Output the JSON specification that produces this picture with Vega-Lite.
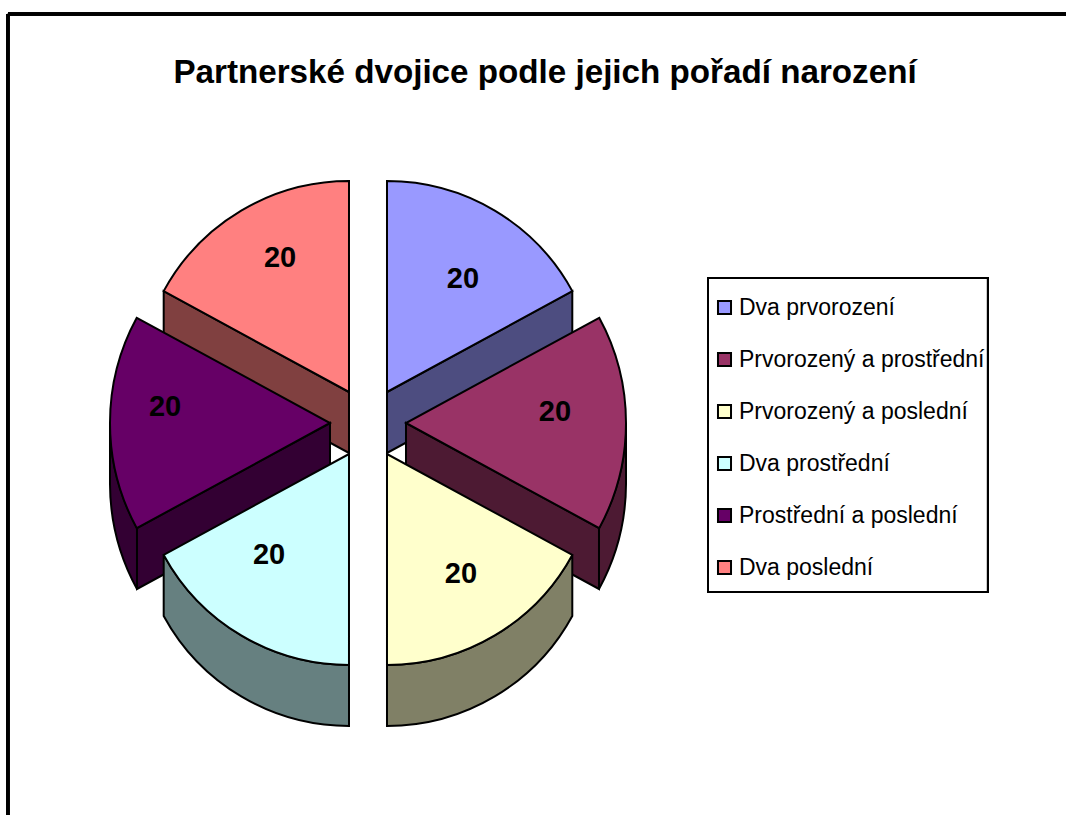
{"$schema":"https://vega.github.io/schema/vega-lite/v6.json","width":1066,"height":815,"padding":0,"autosize":{"type":"none"},"background":"white","title":{"text":"Partnerské dvojice podle jejich pořadí narození","font":"Liberation Sans","fontSize":33.2,"fontWeight":"bold","color":"black","anchor":"middle","offset":-90,"dx":12},"config":{"view":{"stroke":null},"axis":{"disable":true},"text":{"font":"Liberation Sans"}},"data":{"values":[{"dvojice":"Dva prvorození","pocet":20,"poradi":1},{"dvojice":"Prvorozený a prostřední","pocet":20,"poradi":2},{"dvojice":"Prvorozený a poslední","pocet":20,"poradi":3},{"dvojice":"Dva prostřední","pocet":20,"poradi":4},{"dvojice":"Prostřední a poslední","pocet":20,"poradi":5},{"dvojice":"Dva poslední","pocet":20,"poradi":6}]},"transform":[{"stack":"pocet","groupby":[],"sort":[{"field":"poradi"}],"as":["v0","v1"]}],"layer":[
{"mark":{"type":"rule","color":"black","strokeWidth":3},"encoding":{"x":{"datum":-18.95,"scale":{"domain":[-19.368,36.737],"nice":false,"zero":false}},"y":{"datum":13.19,"scale":{"domain":[-12.645,13.645],"nice":false,"zero":false}},"x2":{"datum":36.737}}},
{"mark":{"type":"rule","color":"black","strokeWidth":3},"encoding":{"x":{"datum":-18.95},"y":{"datum":13.19},"y2":{"datum":-12.645}}},
{"mark":{"type":"rect","fill":"white","fillOpacity":0,"stroke":"black","strokeWidth":2},"encoding":{"x":{"datum":17.895},"x2":{"datum":32.63},"y":{"datum":4.677},"y2":{"datum":-5.452}}},
{"transform":[{"filter":{"field":"dvojice","equal":"Dva poslední"}}],"mark":{"type":"point","shape":"M0 0L-185.3 -100.9L-185.3 -39.9L0 61Z","size":4,"filled":true,"fill":"#804040","stroke":"black","strokeWidth":2,"opacity":1},"encoding":{"x":{"datum":-1},"y":{"datum":1}}},
{"transform":[{"filter":{"field":"dvojice","equal":"Dva prvorození"}}],"mark":{"type":"point","shape":"M0 0L185.3 -100.9L185.3 -39.9L0 61Z","size":4,"filled":true,"fill":"#4D4D80","stroke":"black","strokeWidth":2,"opacity":1},"encoding":{"x":{"datum":1},"y":{"datum":1}}},
{"transform":[{"filter":{"field":"dvojice","equal":"Dva poslední"}}],"mark":{"type":"arc","radius":211,"stroke":"black","strokeWidth":2},"encoding":{"x":{"datum":-1},"y":{"datum":1},"theta":{"field":"v0","type":"quantitative","scale":{"domain":[0,20,40,60,80,100,120],"range":[0,1.0723,2.0693,3.1416,4.2139,5.2109,6.2832]}},"theta2":{"field":"v1"},"color":{"field":"dvojice","type":"nominal","scale":{"domain":["Dva prvorození","Prvorozený a prostřední","Prvorozený a poslední","Dva prostřední","Prostřední a poslední","Dva poslední"],"range":["#9999FF","#993366","#FFFFCC","#CCFFFF","#660066","#FF8080"]},"legend":{"title":null,"orient":"none","legendX":713,"legendY":296,"symbolType":"square","symbolSize":170,"symbolStrokeColor":"black","symbolStrokeWidth":2,"labelFont":"Liberation Sans","labelFontSize":23,"labelColor":"black","labelLimit":300,"labelOffset":3,"rowPadding":28,"padding":0}}}},
{"transform":[{"filter":{"field":"dvojice","equal":"Dva prvorození"}}],"mark":{"type":"arc","radius":211,"stroke":"black","strokeWidth":2},"encoding":{"x":{"datum":1},"y":{"datum":1},"theta":{"field":"v0","type":"quantitative"},"theta2":{"field":"v1"},"color":{"field":"dvojice","type":"nominal"}}},
{"transform":[{"filter":{"field":"dvojice","equal":"Prostřední a poslední"}}],"mark":{"type":"point","shape":"M0 0L-193 105L-193 166L0 61ZM-193 105A220 220 0 0 1 -220 0L-220 61A220 220 0 0 0 -193 166Z","size":4,"filled":true,"fill":"#330033","stroke":"black","strokeWidth":2,"opacity":1},"encoding":{"x":{"datum":-2},"y":{"datum":0}}},
{"transform":[{"filter":{"field":"dvojice","equal":"Prvorozený a prostřední"}}],"mark":{"type":"point","shape":"M0 0L193 105L193 166L0 61ZM193 105A220 220 0 0 0 220 0L220 61A220 220 0 0 1 193 166Z","size":4,"filled":true,"fill":"#4D1A33","stroke":"black","strokeWidth":2,"opacity":1},"encoding":{"x":{"datum":2},"y":{"datum":0}}},
{"transform":[{"filter":{"field":"dvojice","equal":"Prostřední a poslední"}}],"mark":{"type":"arc","radius":220,"stroke":"black","strokeWidth":2},"encoding":{"x":{"datum":-2},"y":{"datum":0},"theta":{"field":"v0","type":"quantitative"},"theta2":{"field":"v1"},"color":{"field":"dvojice","type":"nominal"}}},
{"transform":[{"filter":{"field":"dvojice","equal":"Prvorozený a prostřední"}}],"mark":{"type":"arc","radius":220,"stroke":"black","strokeWidth":2},"encoding":{"x":{"datum":2},"y":{"datum":0},"theta":{"field":"v0","type":"quantitative"},"theta2":{"field":"v1"},"color":{"field":"dvojice","type":"nominal"}}},
{"transform":[{"filter":{"field":"dvojice","equal":"Dva prostřední"}}],"mark":{"type":"point","shape":"M0 211A211 211 0 0 1 -185.3 100.9L-185.3 161.9A211 211 0 0 0 0 272Z","size":4,"filled":true,"fill":"#668080","stroke":"black","strokeWidth":2,"opacity":1},"encoding":{"x":{"datum":-1},"y":{"datum":-1}}},
{"transform":[{"filter":{"field":"dvojice","equal":"Prvorozený a poslední"}}],"mark":{"type":"point","shape":"M0 211A211 211 0 0 0 185.3 100.9L185.3 161.9A211 211 0 0 1 0 272Z","size":4,"filled":true,"fill":"#808066","stroke":"black","strokeWidth":2,"opacity":1},"encoding":{"x":{"datum":1},"y":{"datum":-1}}},
{"transform":[{"filter":{"field":"dvojice","equal":"Dva prostřední"}}],"mark":{"type":"arc","radius":211,"stroke":"black","strokeWidth":2},"encoding":{"x":{"datum":-1},"y":{"datum":-1},"theta":{"field":"v0","type":"quantitative"},"theta2":{"field":"v1"},"color":{"field":"dvojice","type":"nominal"}}},
{"transform":[{"filter":{"field":"dvojice","equal":"Prvorozený a poslední"}}],"mark":{"type":"arc","radius":211,"stroke":"black","strokeWidth":2},"encoding":{"x":{"datum":1},"y":{"datum":-1},"theta":{"field":"v0","type":"quantitative"},"theta2":{"field":"v1"},"color":{"field":"dvojice","type":"nominal"}}},
{"transform":[{"filter":{"field":"dvojice","equal":"Dva prvorození"}}],"mark":{"type":"text","fontSize":29,"fontWeight":"bold","color":"black"},"encoding":{"x":{"datum":5},"y":{"datum":4.645},"text":{"field":"pocet","type":"quantitative"}}},
{"transform":[{"filter":{"field":"dvojice","equal":"Prvorozený a prostřední"}}],"mark":{"type":"text","fontSize":29,"fontWeight":"bold","color":"black"},"encoding":{"x":{"datum":9.84},"y":{"datum":0.355},"text":{"field":"pocet","type":"quantitative"}}},
{"transform":[{"filter":{"field":"dvojice","equal":"Prvorozený a poslední"}}],"mark":{"type":"text","fontSize":29,"fontWeight":"bold","color":"black"},"encoding":{"x":{"datum":4.89},"y":{"datum":-4.87},"text":{"field":"pocet","type":"quantitative"}}},
{"transform":[{"filter":{"field":"dvojice","equal":"Dva prostřední"}}],"mark":{"type":"text","fontSize":29,"fontWeight":"bold","color":"black"},"encoding":{"x":{"datum":-5.21},"y":{"datum":-4.26},"text":{"field":"pocet","type":"quantitative"}}},
{"transform":[{"filter":{"field":"dvojice","equal":"Prostřední a poslední"}}],"mark":{"type":"text","fontSize":29,"fontWeight":"bold","color":"black"},"encoding":{"x":{"datum":-10.68},"y":{"datum":0.516},"text":{"field":"pocet","type":"quantitative"}}},
{"transform":[{"filter":{"field":"dvojice","equal":"Dva poslední"}}],"mark":{"type":"text","fontSize":29,"fontWeight":"bold","color":"black"},"encoding":{"x":{"datum":-4.63},"y":{"datum":5.32},"text":{"field":"pocet","type":"quantitative"}}}
]}
